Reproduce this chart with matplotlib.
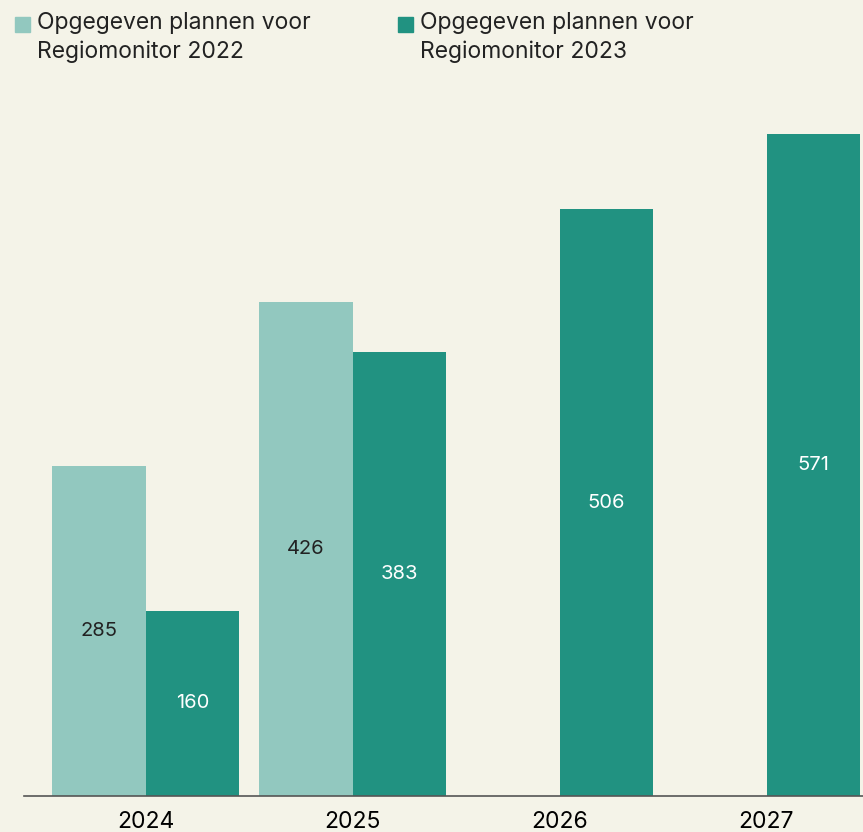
import numpy as np
import matplotlib
matplotlib.use("Agg")
import matplotlib.pyplot as plt
from matplotlib.patches import Rectangle

# data
jaren = ["2024", "2025", "2026", "2027"]
plannen_2022 = [285, 426, None, None]
plannen_2023 = [160, 383, 506, 571]
legenda = ["Opgegeven plannen voor\nRegiomonitor 2022", "Opgegeven plannen voor\nRegiomonitor 2023"]

licht = "#92c8bf"
donker = "#219281"
achtergrond = "#f4f3e8"
tekst = "#222222"

plt.rcParams["font.family"] = ["Inter", "DejaVu Sans"]

fig = plt.figure(figsize=(8.63, 8.32), dpi=100, facecolor=achtergrond)
ax = fig.add_axes([24 / 863, 36 / 832, 1 - 24 / 863, 0.8793 - 36 / 832])
ax.set_facecolor(achtergrond)

x = np.arange(len(jaren))
w = 93.5 / 207

for i, v in enumerate(plannen_2022):
    if v is None:
        continue
    ax.bar(x[i] - w / 2, v, width=w, color=licht)
    ax.text(x[i] - w / 2, v / 2, str(v), ha="center", va="center", fontsize=14.5, color=tekst)

for i, v in enumerate(plannen_2023):
    ax.bar(x[i] + w / 2, v, width=w, color=donker)
    ax.text(x[i] + w / 2, v / 2, str(v), ha="center", va="center", fontsize=14.5, color="white")

ax.set_xlim((24 - 145.5) / 207, (863 - 145.5) / 207)
ax.set_ylim(0, 600)
ax.set_xticks(x)
ax.set_xticklabels(jaren, fontsize=16.5, color="black")
ax.tick_params(axis="x", length=0, pad=11)
ax.set_yticks([])
for s in ["top", "right", "left"]:
    ax.spines[s].set_visible(False)
ax.spines["bottom"].set_color("#555555")
ax.spines["bottom"].set_linewidth(1.2)

# legenda bovenaan
for (px, kleur, label) in [(15, licht, legenda[0]), (398, donker, legenda[1])]:
    fig.patches.append(Rectangle((px / 863, 1 - 32 / 832), 15 / 863, 15 / 832,
                                 transform=fig.transFigure, color=kleur))
    fig.text((px + 22) / 863, 1 - 12 / 832, label, ha="left", va="top",
             fontsize=16.5, color=tekst, linespacing=1.35)

fig.savefig("out.png", dpi=100, facecolor=achtergrond)
